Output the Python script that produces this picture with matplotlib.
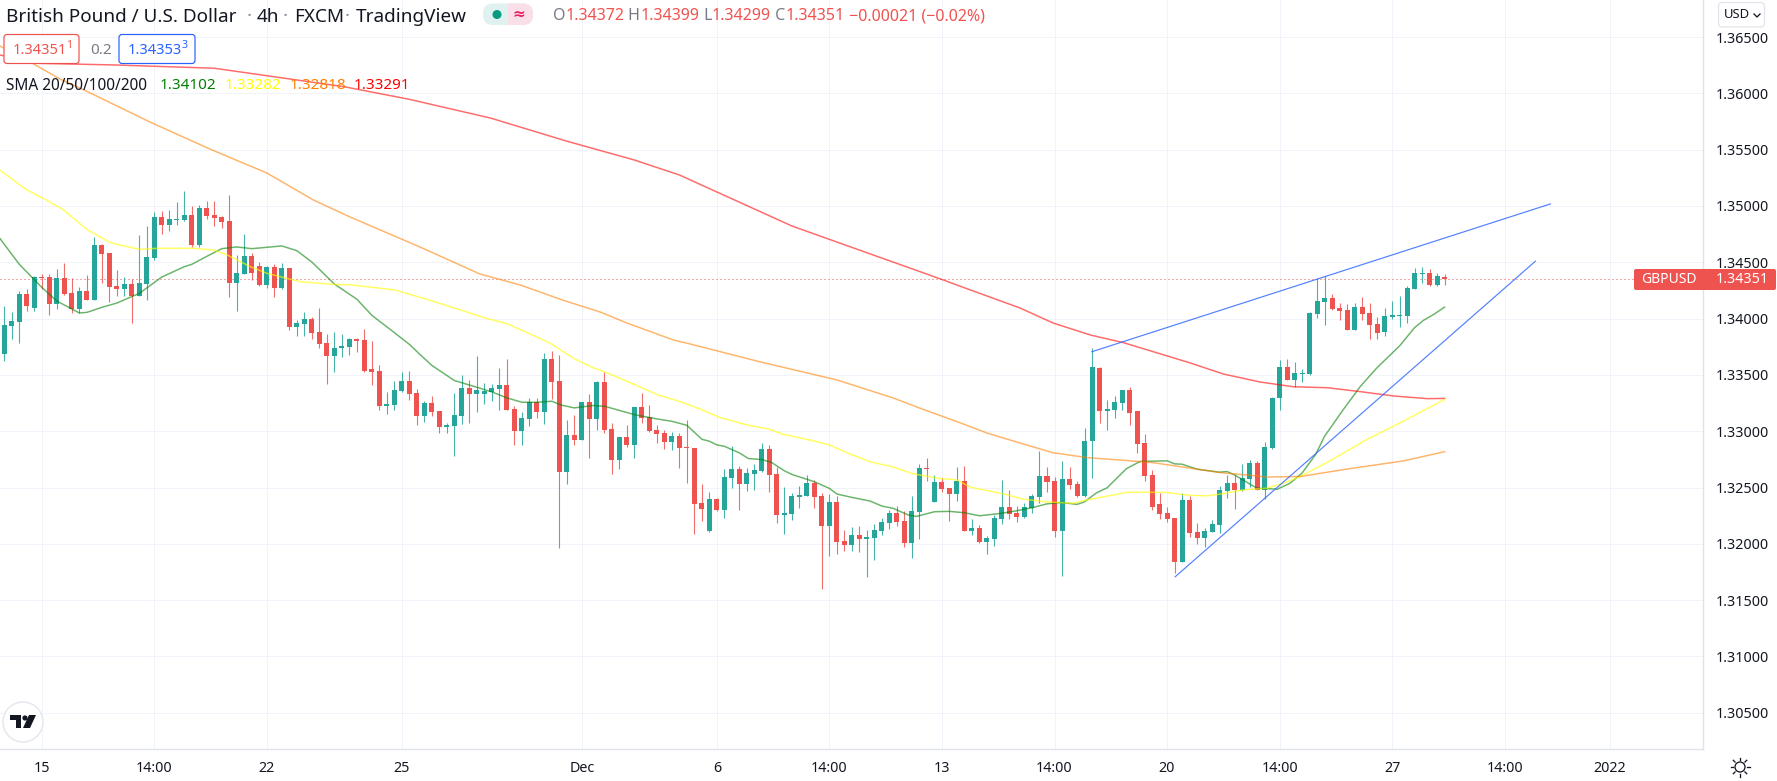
#!/usr/bin/env python3
# GBPUSD 4h candles
import numpy as np
import matplotlib
matplotlib.use("Agg")
import matplotlib.pyplot as plt
from matplotlib.patches import FancyBboxPatch, Rectangle, Circle, Polygon

plt.rcParams['font.family'] = ['Noto Sans', 'DejaVu Sans']

# prices in 1e-5 units
opens = [133688,133937,133973,134218,134097,134369,134369,134132,134360,134227,
         134088,134245,134168,134653,134582,134289,134266,134307,134203,134307,
         134541,134902,134834,134878,134875,134920,134653,134982,134920,134902,
         134867,134319,134396,134556,134467,134301,134458,134275,134449,133928,
         133955,133996,133881,133783,133671,133738,133747,133816,133807,133548,
         133539,133228,133236,133361,133450,133343,133138,133254,133183,133040,
         133049,133138,133388,133334,133326,133352,133379,133406,133201,133005,
         133112,133263,133174,133637,133450,132639,132969,132925,133263,133112,
         133441,133023,132746,132951,132880,133219,133130,133014,132987,132907,
         132960,132862,132849,132362,132114,132397,132300,132583,132663,132530,
         132619,132645,132840,132619,132256,132265,132415,132424,132539,132424,
         132158,132371,132026,131990,132079,132043,132052,132114,132185,132273,
         132202,132007,132282,132671,132370,132547,132494,132441,132556,132114,
         132140,132016,132043,132220,132326,132273,132238,132317,132415,132600,
         132556,132114,132574,132530,132429,132910,133558,133175,133184,133246,
         133362,133181,132897,132612,132355,132275,132231,131840,132390,132106,
         132053,132106,132168,132470,132541,132479,132577,132719,132479,132852,
         133291,133567,133451,133504,133504,134039,134146,134182,134092,134075,
         133896,134101,134048,133950,133879,134012,134021,134021,134262,134395,
         134404,134297,134372]
highs = [134112,134055,134245,134260,134375,134396,134396,134440,134494,134357,
         134280,134387,134721,134659,134582,134431,134369,134349,134742,134822,
         134946,134955,134964,135035,135133,135000,135009,135044,135044,134911,
         135097,134565,134751,134582,134502,134467,134485,134494,134449,133987,
         134058,134014,134094,133863,133881,133860,133825,133825,133905,133798,
         133584,133352,133450,133530,133539,133379,133272,133317,133183,133076,
         133343,133495,133459,133664,133432,133415,133557,133637,133228,133174,
         133299,133299,133691,133709,133673,133103,133147,133263,133326,133450,
         133522,133076,132951,133058,133219,133343,133236,133058,133014,132996,
         132987,133103,132849,132530,132459,132406,132663,132866,132689,132672,
         132707,132893,132875,132681,132504,132450,132512,132610,132565,132450,
         132442,132424,132123,132150,132158,132123,132176,132229,132300,132335,
         132291,132423,132707,132760,132609,132583,132494,132680,132689,132220,
         132167,132069,132255,132565,132476,132335,132361,132441,132822,132680,
         132592,132733,132680,132556,133031,133741,133567,133273,133309,133362,
         133389,133181,132976,132657,132453,132328,132231,132453,132426,132186,
         132142,132213,132515,132612,132612,132710,132746,132737,132905,133305,
         133629,133638,133611,133549,134057,134360,134378,134217,134137,134128,
         134137,134190,134137,134012,134092,134155,134199,134288,134449,134458,
         134440,134404,134399]
lows = [133626,133822,133786,134070,134070,134260,134035,134088,134212,134053,
        134047,134165,134168,134319,134150,134203,134203,133964,134203,134168,
        134523,134754,134781,134834,134867,134636,134636,134884,134822,134804,
        134195,134070,134396,134346,134289,134275,134195,134266,133899,133848,
        133848,133822,133742,133422,133529,133658,133676,133703,133522,133406,
        133192,133156,133192,133352,133281,133058,133085,133138,132987,132987,
        132782,133067,133076,133174,133245,133272,133192,133192,132880,132880,
        133049,133121,133067,133290,131962,132533,132880,132925,132764,133014,
        132987,132622,132666,132862,132764,133076,132996,132898,132844,132835,
        132675,132541,132088,132203,132105,132291,132229,132495,132300,132468,
        132477,132636,132459,132185,132088,132211,132318,132424,132318,131601,
        131893,131911,131937,131937,131928,131707,131858,132079,132132,132158,
        131972,131875,132043,132556,132370,132459,132202,132379,132114,132078,
        132007,131910,131981,132176,132220,132193,132229,132273,132361,132459,
        132061,131715,132485,132415,132420,132586,133071,133015,133113,133184,
        133059,132808,132559,132302,132222,132195,131742,131840,132062,132000,
        131973,132106,132097,132408,132310,132470,132506,132479,132399,132843,
        133192,133451,133389,133433,133495,134003,133941,134075,133985,133896,
        133896,133985,133816,133816,133843,133994,133923,133959,134262,134315,
        134288,134288,134299]
closes = [133943,133979,134218,134112,134369,134360,134132,134360,134221,134088,
          134245,134168,134653,134573,134283,134266,134307,134203,134316,134547,
          134902,134834,134884,134884,134920,134653,134982,134911,134893,134858,
          134319,134405,134556,134408,134298,134458,134275,134449,133928,133961,
          133996,133875,133777,133671,133739,133753,133816,133801,133539,133530,
          133228,133245,133370,133450,133334,133138,133254,133174,133040,133058,
          133147,133388,133334,133370,133361,133388,133406,133192,133005,133121,
          133263,133174,133637,133441,132639,132969,132925,133263,133112,133441,
          133014,132746,132951,132880,133219,133121,133005,132978,132907,132960,
          132853,132847,132353,132309,132397,132300,132592,132663,132530,132627,
          132654,132840,132610,132256,132273,132424,132433,132539,132415,132158,
          132371,132017,131990,132079,132043,132061,132123,132194,132273,132194,
          132007,132291,132671,132662,132547,132485,132441,132556,132114,132140,
          132016,132052,132229,132326,132264,132238,132326,132423,132600,132547,
          132114,132574,132521,132423,132916,133566,133175,133193,133255,133362,
          133166,132888,132604,132328,132266,132222,131840,132390,132097,132053,
          132115,132177,132479,132541,132479,132586,132719,132479,132861,133296,
          133567,133451,133513,133513,134048,134155,134182,134083,134066,133896,
          134101,134039,133941,133870,134021,134030,134030,134271,134404,134404,
          134297,134378,134351]

# moving averages, sampled by eye at candle positions
sma20_x = [-0.6,2,5,7,10,11,13,15,18,21,24,25,27,29,31,33,37,39,41,44,47,49,52,54,55.4,57,60,62.5,65,67,69,
           71,73,74.3,76,78.5,80,84,87,89,91,93,94,95,96,98,99.2,101,102.3,104,105,108,110,111,113,115.4,
           117,118.5,120.5,121.6,124,126,128,130,132.8,135,137,139,141,143,144,145.6,147,149.6,151.4,155,
           156,157,159,160,162,163,164,165.7,167,169.7,171.4,173,174.8,176,178.5,180.8,183,186,188,189.2,190.6,192]
sma20 = [134713,134482,134277,134156,134050,134055,134100,134138,134224,134369,134461,134482,134553,134621,
         134636,134621,134645,134603,134502,134307,134172,134029,133875,133771,133682,133584,133450,133400,
         133349,133296,133257,133257,133266,133231,133207,133228,133222,133147,133109,133088,133052,132928,
         132911,132878,132866,132807,132757,132748,132722,132648,132616,132551,132492,132442,132412,132380,
         132335,132315,132256,132243,132285,132288,132276,132249,132270,132294,132320,132355,132367,132350,
         132373,132453,132497,132668,132731,132737,132710,132707,132663,132654,132636,132642,132612,132544,
         132494,132485,132538,132628,132792,132955,133192,133400,133564,133757,133920,133985,134039,134102]
sma50_x = [-0.6,3,5.2,7.9,11,13.9,15,18,20.3,25.2,27.9,29.7,32.8,35,38,39.4,43.9,46,52,56.3,60.8,63.9,67,70.2,
           72.8,76,78.5,80.1,84,87,90,92.8,95.4,99,102,103.8,107.9,110,112.3,115.4,118.5,121,124.3,127,128.8,
           132.8,135.9,139,142.5,144.3,146,149.6,151.4,155,157.8,160.3,162,165.2,168.3,170.5,172.8,177,181.6,186.5,192]
sma50 = [135319,135142,135068,134965,134792,134683,134659,134615,134624,134624,134609,134565,134461,134402,
         134352,134328,134304,134301,134255,134172,134077,134009,133955,133860,133780,133643,133563,133525,
         133415,133326,133264,133196,133121,133056,133017,132973,132914,132878,132810,132729,132682,132625,
         132583,132568,132503,132449,132396,132372,132360,132390,132411,132456,132459,132455,132432,132426,
         132441,132479,132494,132538,132598,132747,132925,133089,133282]
sma100_x = [-0.6,3.8,7.4,11.2,19.4,27.7,35,41.2,46.1,55.4,63.4,68.8,74.4,79.4,83,89.2,91.4,100.8,111,118.5,122,127,
            131,135.4,139.8,144.4,148.8,153.2,157.7,162.1,165.7,168.4,172.8,179,186.5,192]
sma100 = [136421,136265,136128,136012,135746,135497,135293,135053,134902,134636,134396,134298,134165,134059,
          133961,133810,133775,133615,133455,133295,133206,133085,132984,132895,132809,132765,132744,132720,
          132676,132632,132611,132593,132598,132664,132736,132818]
sma200_x = [-0.6,4.5,14.8,28,45.3,54,64.8,74.9,84,90,105,124.8,128.8,135.4,139.8,144.8,149.2,153.7,158.1,162.5,
            167.4,171.8,176.4,180.8,185.2,189.7,192]
sma200 = [136341,136267,136252,136223,136059,135947,135781,135577,135408,135275,134822,134352,134254,134094,
          133961,133854,133786,133695,133606,133508,133437,133395,133386,133351,133313,133289,133291]

# drawn trendlines
trend1_x = [145, 206.1]
trend1 = [133706, 135018]
trend2_x = [156.1, 204.1]
trend2 = [131708, 134509]

price_ticks = [1.305, 1.31, 1.315, 1.32, 1.325, 1.33, 1.335, 1.34, 1.345, 1.35, 1.355, 1.36, 1.365]
time_ticks = [5, 20, 35, 53, 77, 95, 110, 125, 140, 155, 170, 185, 200, 214]
time_labels = ['15', '14:00', '22', '25', 'Dec', '6', '14:00', '13', '14:00', '20', '14:00', '27', '14:00', '2022']
last_price = 1.34351

UP = '#26a69a'
DOWN = '#ef5350'
BLUE = '#2962ff'
INK = '#131722'
GRID = '#f0f3fa'
BORDER = '#e0e3eb'
PX = 0.72  # 1 px in points at dpi 100

fig = plt.figure(figsize=(17.77, 7.81), dpi=100, facecolor='white')
ax = fig.add_axes([0, 32 / 781, 1703 / 1777, 749 / 781])

o = np.array(opens) / 1e5
h = np.array(highs) / 1e5
l = np.array(lows) / 1e5
c = np.array(closes) / 1e5
x = np.arange(len(o))
cols = [UP if c[i] >= o[i] else DOWN for i in x]

ax.vlines(x, l, h, colors=cols, lw=1.1 * PX, alpha=0.85, zorder=3)
ax.bar(x, np.maximum(np.abs(c - o), 0.00003), bottom=np.minimum(o, c), width=0.667, color=cols, lw=0, zorder=4)

ax.plot(sma20_x, np.array(sma20) / 1e5, color='#008000', alpha=0.58, lw=1.5 * PX, zorder=5)
ax.plot(sma50_x, np.array(sma50) / 1e5, color='#ffff00', alpha=0.62, lw=1.5 * PX, zorder=5)
ax.plot(sma100_x, np.array(sma100) / 1e5, color='#ff8000', alpha=0.58, lw=1.5 * PX, zorder=5)
ax.plot(sma200_x, np.array(sma200) / 1e5, color='#ff0000', alpha=0.58, lw=1.5 * PX, zorder=5)

ax.plot(trend1_x, np.array(trend1) / 1e5, color=BLUE, alpha=0.8, lw=1.2 * PX, zorder=6)
ax.plot(trend2_x, np.array(trend2) / 1e5, color=BLUE, alpha=0.8, lw=1.2 * PX, zorder=6)

ax.axhline(last_price, color=DOWN, lw=1 * PX, ls=(0, (1, 3)), zorder=2)

ax.set_xlim(-0.573, 226.45)
ax.set_ylim(1.30178, 1.36829)
ax.set_xticks(time_ticks)
ax.set_xticklabels(time_labels)
ax.set_yticks(price_ticks)
ax.set_yticklabels(['%.5f' % p for p in price_ticks])
ax.yaxis.tick_right()
ax.tick_params(axis='y', length=0, pad=9.4, labelsize=10.3, labelcolor=INK)
ax.tick_params(axis='x', length=0, pad=8.5, labelsize=10.3, labelcolor=INK)
ax.grid(True, color=GRID, lw=1 * PX, zorder=0)
ax.set_axisbelow(True)
for s in ['top', 'left']:
    ax.spines[s].set_visible(False)
for s in ['right', 'bottom']:
    ax.spines[s].set_color(BORDER)
    ax.spines[s].set_linewidth(1.4 * PX)

# everything around the chart goes on an overlay in pixel coordinates
ov = fig.add_axes([0, 0, 1, 1], facecolor='none')
ov.set_xlim(0, 1777)
ov.set_ylim(781, 0)
ov.axis('off')


def row(parts, x0, y, size, gap=0):
    rend = fig.canvas.get_renderer()
    xp = x0
    for txt, col in parts:
        t = ov.text(xp, y, txt, color=col, fontsize=size, va='center', ha='left')
        xp = xp + t.get_window_extent(rend).width + gap
    return xp


def box(xb, yb, w, hb, edge, face='white', r=3, lw=1.0):
    p = FancyBboxPatch((xb, yb), w, hb, boxstyle='round,pad=0,rounding_size=%g' % r,
                       fc=face, ec=edge, lw=lw * PX)
    ov.add_patch(p)
    return p


GRAY = '#8a8f9c'
TS = 13.6
ov.text(6, 16.5, 'British Pound / U.S. Dollar', color=INK, fontsize=TS, va='center')
ov.text(249, 16.5, '·', color=GRAY, fontsize=TS, va='center', ha='center')
ov.text(257, 16.5, '4h', color=INK, fontsize=TS, va='center')
ov.text(285, 16.5, '·', color=GRAY, fontsize=TS, va='center', ha='center')
ov.text(294, 16.5, 'FXCM', color=INK, fontsize=TS, va='center')
ov.text(347.5, 16.5, '·', color=GRAY, fontsize=TS, va='center', ha='center')
ov.text(356, 16.5, 'TradingView', color=INK, fontsize=TS, va='center')

# market status pills
pill = box(483, 3.5, 50, 21.5, 'none', face='#dff2f0', r=10)
pink = Rectangle((508, 3), 26, 23, fc='#fbdfe8', ec='none')
ov.add_patch(pink)
pink.set_clip_path(pill)
ov.add_patch(Circle((497, 14.5), 4.5, fc='#089981', ec='none'))
ov.text(519, 14, '≈', color='#e91e63', fontsize=11, ha='center', va='center', weight='bold', family='DejaVu Sans')

row([('O', '#787b86'), ('1.34372', DOWN), (' H', '#787b86'), ('1.34399', DOWN), (' L', '#787b86'), ('1.34299', DOWN),
     (' C', '#787b86'), ('1.34351', DOWN), (' −0.00021 (−0.02%)', DOWN)], 553, 16.5, 11.5)

# bid / ask boxes
box(4, 34.5, 75, 29, DOWN, lw=1.2)
ov.text(13, 50, '1.34351', color=DOWN, fontsize=10.6, va='center')
ov.text(66, 45, '1', color=DOWN, fontsize=7.5, va='center')
ov.text(90, 50, '0.2', color='#787b86', fontsize=11, va='center')
box(119, 34.5, 76, 29, BLUE, lw=1.2)
ov.text(128, 50, '1.34353', color=BLUE, fontsize=10.6, va='center')
ov.text(181, 45, '3', color=BLUE, fontsize=7.5, va='center')

ov.text(6, 85.5, 'SMA 20/50/100/200', color=INK, fontsize=11.1, va='center')
ov.text(160, 85.5, '1.34102', color='#008000', fontsize=11, va='center')
ov.text(225, 85.5, '1.33282', color='#ffff00', fontsize=11, va='center')
ov.text(290, 85.5, '1.32818', color='#ff8000', fontsize=11, va='center')
ov.text(354, 85.5, '1.33291', color='#ff0000', fontsize=11, va='center')

# price scale widgets
box(1718.5, 2.5, 46, 24.5, BORDER, lw=1.2, r=4)
ov.text(1724, 15, 'USD', color=INK, fontsize=9.4, va='center')
ov.plot([1754, 1757, 1760], [14, 17, 14], color=INK, lw=1.3 * PX)

box(1634, 269, 142, 21, 'none', face=DOWN, r=2)
ov.text(1641, 279.5, 'GBPUSD', color='white', fontsize=10, va='center')
ov.text(1716, 279.5, '1.34351', color='white', fontsize=10.3, va='center')

# gear / sun button
ov.add_patch(Circle((1740, 767), 5, fc='none', ec=INK, lw=1.3 * PX))
for a in np.arange(0, 2 * np.pi, np.pi / 4):
    ov.plot([1740 + 7 * np.cos(a), 1740 + 9.5 * np.cos(a)], [767 + 7 * np.sin(a), 767 + 9.5 * np.sin(a)],
            color=INK, lw=1.3 * PX)

# logo
ov.add_patch(Circle((23, 722), 20, fc='white', ec='#e6e8ee', lw=1.5 * PX, zorder=8))
ov.add_patch(Polygon([(10, 715), (21, 715), (21, 728), (16, 728), (16, 720), (10, 720)], fc=INK, ec='none', zorder=9))
ov.add_patch(Circle((25, 718), 2.6, fc=INK, ec='none', zorder=9))
ov.add_patch(Polygon([(29, 715), (36, 715), (30, 728), (23, 728)], fc=INK, ec='none', zorder=9))

fig.savefig('out.png', dpi=100)
